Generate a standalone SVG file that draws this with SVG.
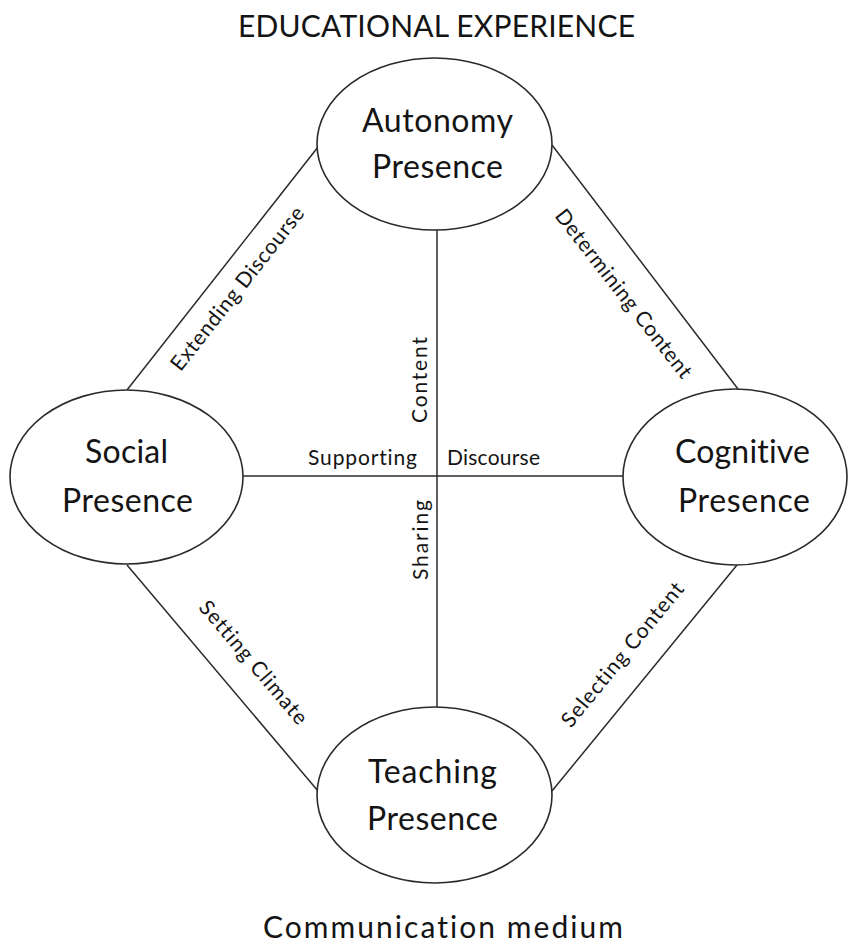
<svg xmlns="http://www.w3.org/2000/svg" width="848" height="950" viewBox="0 0 848 950">
<style>
.bg{fill:#ffffff}
.edge{stroke:#2a2a2a;stroke-width:1.5;fill:none}
.node{fill:#ffffff;stroke:#2a2a2a;stroke-width:1.6}
text{font-family:Lato,"Open Sans","Liberation Sans",sans-serif;fill:#141414;font-variant-ligatures:none}
.nt{font-size:32px;text-anchor:middle}
.lb{font-size:21px;text-anchor:middle}
.tt{font-size:30px;text-anchor:middle}
</style>
<rect class="bg" x="0" y="0" width="848" height="950"/>
<g id="connectors">
<line class="edge" x1="127" y1="390" x2="318" y2="147"/>
<line class="edge" x1="552" y1="145" x2="738" y2="389"/>
<line class="edge" x1="127" y1="565" x2="318" y2="791"/>
<line class="edge" x1="737" y1="565" x2="552" y2="791"/>
<line class="edge" x1="437" y1="229" x2="437" y2="708"/>
<line class="edge" x1="243" y1="476" x2="623" y2="476"/>
<text class="lb" transform="translate(243,293) rotate(-51.8)" textLength="202">Extending Discourse</text>
<text class="lb" transform="translate(618,298) rotate(52)" textLength="208">Determining Content</text>
<text class="lb" transform="translate(248,667) rotate(49.7)" textLength="155">Setting Climate</text>
<text class="lb" transform="translate(628,659) rotate(-50.7)" textLength="180">Selecting Content</text>
<text class="lb" transform="translate(427,380) rotate(-90)" textLength="86">Content</text>
<text class="lb" transform="translate(428,540) rotate(-90)" textLength="80">Sharing</text>
<text class="lb" x="362.5" y="465" textLength="109">Supporting</text>
<text class="lb" x="493.5" y="465" textLength="93">Discourse</text>
</g>
<g id="autonomy">
<ellipse class="node" cx="434.5" cy="144" rx="117.5" ry="86"/>
<text class="nt" x="437.5" y="132" textLength="151">Autonomy</text>
<text class="nt" x="437.5" y="178" textLength="131">Presence</text>
</g>
<g id="social">
<ellipse class="node" cx="126.5" cy="477" rx="116.5" ry="87"/>
<text class="nt" x="126.5" y="463" textLength="83">Social</text>
<text class="nt" x="127.5" y="512" textLength="131">Presence</text>
</g>
<g id="cognitive">
<ellipse class="node" cx="735" cy="477" rx="112" ry="88"/>
<text class="nt" x="742.5" y="463" textLength="135">Cognitive</text>
<text class="nt" x="744" y="512" textLength="132">Presence</text>
</g>
<g id="teaching">
<ellipse class="node" cx="434.5" cy="795" rx="117.5" ry="88"/>
<text class="nt" x="432.5" y="783" textLength="129">Teaching</text>
<text class="nt" x="432.5" y="830" textLength="131">Presence</text>
</g>
<g id="titles">
<text class="tt" x="436.5" y="37" textLength="397">EDUCATIONAL EXPERIENCE</text>
<text class="tt" x="443" y="938" textLength="360">Communication medium</text>
</g>
</svg>
